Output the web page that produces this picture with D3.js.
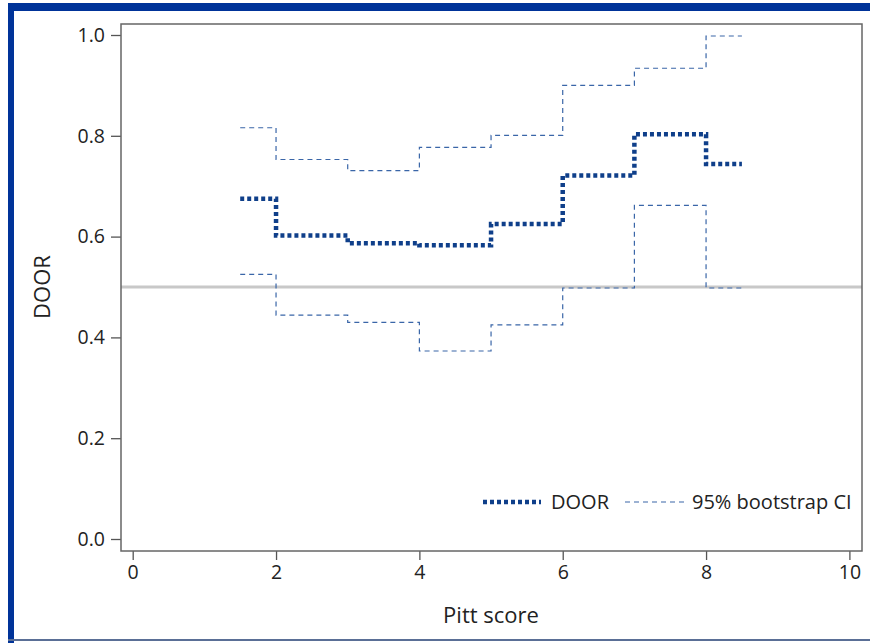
<!DOCTYPE html>
<html>
<head>
<meta charset="utf-8">
<script src="https://cdn.jsdelivr.net/npm/d3@7"></script>
<style>
  body { margin: 0; background: #fff; }
  svg { display: block; }
</style>
</head>
<body>
<svg></svg>
<script>
// step start positions (Pitt score) and last step end
const stepStarts = [1.5, 2, 3, 4, 5, 6, 7, 8];
const stepEnd = 8.5;
const doorValues = [0.675, 0.602, 0.587, 0.583, 0.625, 0.721, 0.803, 0.744];
const upperCI = [0.816, 0.753, 0.731, 0.777, 0.801, 0.900, 0.934, 0.998];
const lowerCI = [0.525, 0.444, 0.430, 0.373, 0.425, 0.498, 0.662, 0.498];
const xTicks = [0, 2, 4, 6, 8, 10];
const yTicks = [0.0, 0.2, 0.4, 0.6, 0.8, 1.0];
const refLine = 0.5;

const WIDTH = 870;
const HEIGHT = 643;
const LEFT = 121, RIGHT = 862, TOP = 24, BOTTOM = 551;

const svg = d3.select('svg').
attr('width', WIDTH).
attr('height', HEIGHT).
attr('font-family', '"Open Sans", sans-serif');

/* --FRAME-- */
svg.append('rect').attr('x', 8).attr('y', 3).attr('width', WIDTH - 8).attr('height', 8).attr('fill', '#003399');
svg.append('rect').attr('x', 8).attr('y', 3).attr('width', 6).attr('height', HEIGHT - 3).attr('fill', '#003399');
svg.append('rect').attr('x', 8).attr('y', 639).attr('width', WIDTH - 8).attr('height', 2).attr('fill', '#5a6f96');

/* --SCALES-- */
const xScale = d3.scaleLinear().domain([0, 10]).range([132.7, 849.4]);
const yScale = d3.scaleLinear().domain([0, 1]).range([539, 35]);

/* --AXES-- */
const xAxis = d3.axisBottom(xScale).tickValues(xTicks).tickFormat(d3.format('d')).tickSize(9).tickPadding(5);
const yAxis = d3.axisLeft(yScale).tickValues(yTicks).tickFormat(d3.format('.1f')).tickSize(10).tickPadding(6);

const gx = svg.append('g').attr('transform', `translate(0, ${BOTTOM})`).call(xAxis);
const gy = svg.append('g').attr('transform', `translate(${LEFT}, 0)`).call(yAxis);
[gx, gy].forEach(g => {
  g.select('.domain').remove();
  g.selectAll('line').attr('stroke', '#555').attr('stroke-width', 1.3);
  g.selectAll('text').attr('font-size', 19.5).attr('fill', '#222').attr('font-family', '"Open Sans", sans-serif');
});

/* --REFERENCE LINE-- */
svg.append('line').
attr('x1', LEFT).attr('x2', RIGHT).
attr('y1', yScale(refLine)).attr('y2', yScale(refLine)).
attr('stroke', '#c8c8c8').attr('stroke-width', 3);

/* --STEP LINES-- */
const line = d3.line().
x(d => xScale(d[0])).
y(d => yScale(d[1])).
curve(d3.curveStepAfter);

const toPoints = vals => {
  const pts = stepStarts.map((x, i) => [x, vals[i]]);
  pts.push([stepEnd, vals[vals.length - 1]]);
  return pts;
};

[upperCI, lowerCI].forEach(vals => {
  svg.append('path').
  attr('d', line(toPoints(vals))).
  attr('fill', 'none').
  attr('stroke', '#3a66a8').
  attr('stroke-width', 1.2).
  attr('stroke-dasharray', '5,4');
});

svg.append('path').
attr('d', line(toPoints(doorValues))).
attr('fill', 'none').
attr('stroke', '#0f3f8a').
attr('stroke-width', 4.5).
attr('stroke-dasharray', '4,3');

/* --PLOT BORDER-- */
svg.append('rect').
attr('x', LEFT).attr('y', TOP).
attr('width', RIGHT - LEFT).attr('height', BOTTOM - TOP).
attr('fill', 'none').
attr('stroke', '#666').
attr('stroke-width', 1.5);

/* --LEGEND-- */
const legend = svg.append('g').attr('font-size', 20).attr('fill', '#222');
legend.append('line').attr('x1', 483).attr('x2', 541).attr('y1', 502).attr('y2', 502).
attr('stroke', '#0f3f8a').attr('stroke-width', 4.5).attr('stroke-dasharray', '4,3');
legend.append('text').attr('x', 551).attr('y', 509).text('DOOR');
legend.append('line').attr('x1', 625).attr('x2', 684).attr('y1', 502).attr('y2', 502).
attr('stroke', '#3a66a8').attr('stroke-width', 1.2).attr('stroke-dasharray', '5,4');
legend.append('text').attr('x', 692).attr('y', 509).text('95% bootstrap CI');

/* --AXIS LABELS-- */
svg.append('text').
attr('x', 491).attr('y', 623).
attr('text-anchor', 'middle').attr('font-size', 22).attr('fill', '#222').
text('Pitt score');

svg.append('text').
attr('transform', `translate(50, ${yScale(0.5)}) rotate(-90)`).
attr('text-anchor', 'middle').attr('font-size', 22).attr('fill', '#222').
text('DOOR');
</script>
</body>
</html>
